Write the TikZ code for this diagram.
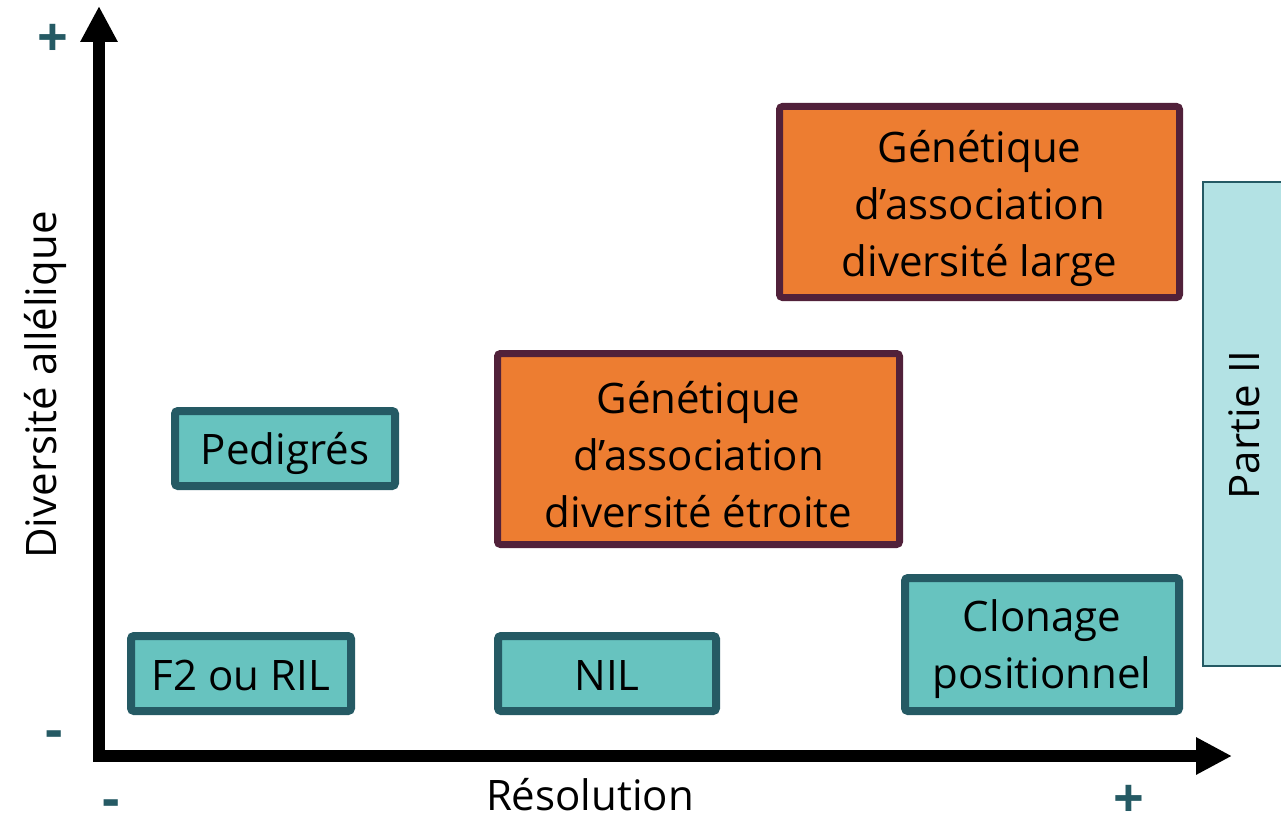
\documentclass[tikz,border=0pt]{standalone}
\usepackage{fontspec}
\setmainfont{Open Sans}
\usetikzlibrary{arrows.meta}
\definecolor{tealfill}{HTML}{67C3BF}
\definecolor{tealdark}{HTML}{255A64}
\definecolor{orangefill}{HTML}{ED7D31}
\definecolor{purpledark}{HTML}{51213A}
\definecolor{lightteal}{HTML}{B3E2E4}
\tikzset{
  tealbox/.style={draw=tealdark, fill=tealfill, line width=8pt, rounded corners=3pt, inner sep=0pt},
  orangebox/.style={draw=purpledark, fill=orangefill, line width=7pt, rounded corners=3pt, inner sep=0pt},
  boxtext/.style={inner sep=0pt, align=center, font=\fontsize{42}{57}\selectfont},
  signlbl/.style={text=tealdark, font=\bfseries\fontsize{54}{54}\selectfont, inner sep=0pt},
  axislbl/.style={font=\fontsize{42}{50}\selectfont, inner sep=0pt},
}
\begin{document}
\begin{tikzpicture}[x=1pt,y=-1pt]
\useasboundingbox (0,0) rectangle (1281,821);
% axes
\coordinate (ytop) at (99,6);
\coordinate (origin) at (99,756);
\coordinate (xend) at (1232,756);
\draw[line width=12pt, line join=miter,
  {Triangle[width=35pt,length=36pt]}-{Triangle[width=35pt,length=36pt]}]
  (ytop) -- (origin) -- (xend);
% signs
\node[signlbl] (yplus) at (53,40) {+};
\node[signlbl] (yminus) at (54,740) {-};
\node[signlbl] (xminus) at (111,809) {-};
\node[signlbl] (xplus) at (1129,801) {+};
% axis labels
\node[axislbl, rotate=90] (ylab) at (45,385) {Diversité allélique};
\node[axislbl] (xlab) at (590,795) {Résolution};
% boxes
\node[tealbox, minimum width=220pt, minimum height=75pt] (ped) at (285,448.5) {};
\node[tealbox, minimum width=220pt, minimum height=75pt] (f2) at (241,673.5) {};
\node[tealbox, minimum width=218pt, minimum height=75pt] (nil) at (607,673.5) {};
\node[tealbox, minimum width=274pt, minimum height=133pt] (clon) at (1042,644.5) {};
\node[orangebox, minimum width=402pt, minimum height=191pt] (etroite) at (698.5,449) {};
\node[orangebox, minimum width=400pt, minimum height=191pt] (large) at (979.5,202) {};
\node[boxtext] (pedt) at ([yshift=-5pt]ped.center) {Pedigrés};
\node[boxtext] (f2t) at ([yshift=-2pt]f2.center) {F2 ou RIL};
\node[boxtext] (nilt) at ([yshift=-2pt]nil.center) {NIL};
\node[boxtext] (clont) at ([yshift=-5pt]clon.center) {Clonage\\positionnel};
\node[boxtext] (etroitet) at ([yshift=-6pt]etroite.center) {Génétique\\d’association\\diversité étroite};
\node[boxtext] (larget) at ([yshift=-6pt]large.center) {Génétique\\d’association\\diversité large};
% Partie II
\node[draw=tealdark, fill=lightteal, line width=2pt, minimum width=90pt, minimum height=484pt,
  inner sep=0pt, anchor=north west] (partie) at (1202,181) {};
\node[axislbl, rotate=90] (partielbl) at (1244,425) {Partie II};
\end{tikzpicture}
\end{document}
